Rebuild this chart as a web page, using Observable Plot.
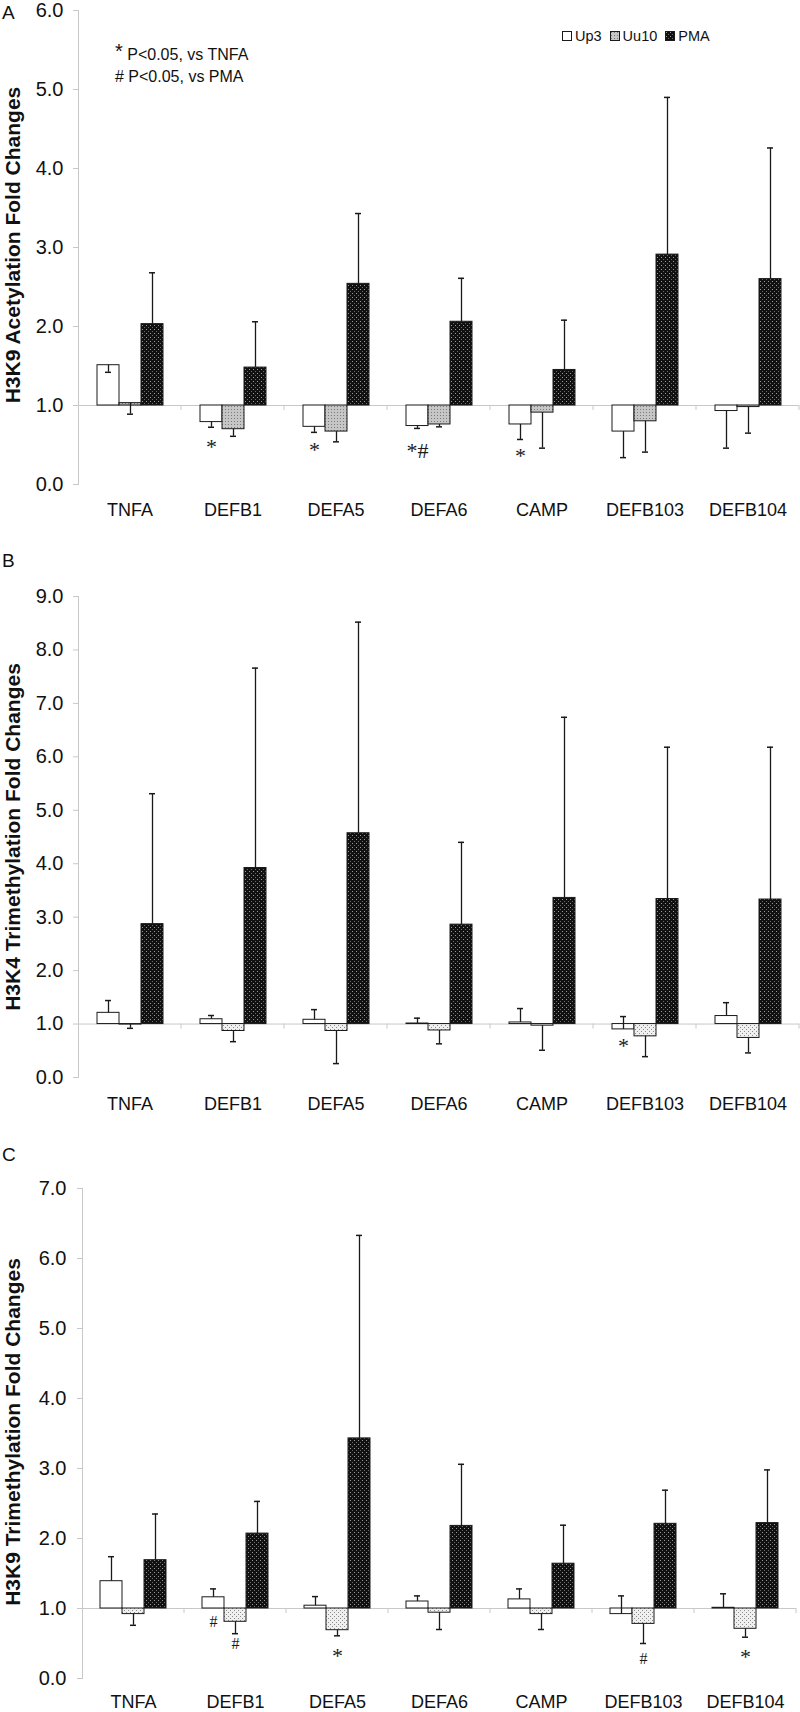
<!DOCTYPE html>
<html><head><meta charset="utf-8">
<script src="https://cdn.jsdelivr.net/npm/d3@7"></script>
<script src="https://cdn.jsdelivr.net/npm/@observablehq/plot@0.6"></script>
<style>
body{margin:0;background:#fff;font-family:"Liberation Sans",Arial,sans-serif;color:#111}
#wrap{position:relative;width:800px;height:1712px;overflow:hidden}
.panel{position:absolute;left:0}
.letter{position:absolute;left:2px;font-size:19px;line-height:19px}
.ytitle{position:absolute;left:12px;font-weight:bold;font-size:21px;line-height:21px;white-space:nowrap;transform:translate(-50%,-50%) rotate(-90deg)}
#legend{position:absolute;left:562px;top:28px;font-size:14.5px;line-height:16px;display:flex;align-items:center}
#legend .sw{width:10px;height:10px;display:block}
#legend .lab{margin-left:3px;margin-right:8px}
#note{position:absolute;left:115px;top:42px;font-size:16px;line-height:22px;white-space:nowrap}
#note .ast{font-size:20px;position:relative;top:-2px}
</style>
</head><body>
<svg width="0" height="0" style="position:absolute">
<defs>
<pattern id="pmaPat" width="4" height="4" patternUnits="userSpaceOnUse">
<rect width="4" height="4" fill="#111"/>
<rect x="1" y="1" width="1" height="1" fill="#9a9a9a"/>
<rect x="3" y="3" width="1" height="1" fill="#6a6a6a"/>
</pattern>
<pattern id="uuA" width="3" height="3" patternUnits="userSpaceOnUse">
<rect width="3" height="3" fill="#c6c6c6"/>
<rect x="1" y="1" width="1" height="1" fill="#7a7a7a"/>
</pattern>
<pattern id="uuBC" width="4" height="4" patternUnits="userSpaceOnUse">
<rect width="4" height="4" fill="#f0f0f0"/>
<rect x="1" y="1" width="1" height="1" fill="#8a8a8a"/>
<rect x="3" y="3" width="1" height="1" fill="#8a8a8a"/>
</pattern>
</defs>
</svg>
<div id="wrap">
<div class="panel" id="pA" style="top:0"></div>
<div class="panel" id="pB" style="top:530px"></div>
<div class="panel" id="pC" style="top:1123px"></div>
</div>
<script>
// ---------- data ----------
const genes = ["TNFA", "DEFB1", "DEFA5", "DEFA6", "CAMP", "DEFB103", "DEFB104"];
const groups = ["Up3", "Uu10", "PMA"];

// Panel A: H3K9 acetylation (bar value and error-bar end value)
const aUp3     = [1.51, 0.79, 0.73, 0.74, 0.76, 0.67, 0.93];
const aUp3End  = [1.42, 0.725, 0.66, 0.71, 0.57, 0.34, 0.46];
const aUu10    = [1.03, 0.70, 0.67, 0.76, 0.91, 0.80, 0.98];
const aUu10End = [0.89, 0.61, 0.54, 0.73, 0.46, 0.41, 0.65];
const aPMA     = [2.03, 1.48, 2.54, 2.06, 1.45, 2.91, 2.60];
const aPMAEnd  = [2.68, 2.06, 3.43, 2.61, 2.08, 4.90, 4.26];
const aSig = [
  {gene: "DEFB1", group: "Up3", y: 0.53, label: "*"},
  {gene: "DEFA5", group: "Up3", y: 0.49, label: "*"},
  {gene: "DEFA6", group: "Up3", y: 0.47, label: "*#"},
  {gene: "CAMP", group: "Up3", y: 0.41, label: "*"}
];

// Panel B: H3K4 trimethylation
const bUp3     = [1.21, 1.09, 1.08, 1.01, 1.03, 0.90, 1.15];
const bUp3End  = [1.44, 1.16, 1.27, 1.11, 1.29, 1.14, 1.40];
const bUu10    = [0.99, 0.87, 0.87, 0.88, 0.97, 0.77, 0.74];
const bUu10End = [0.92, 0.67, 0.26, 0.63, 0.51, 0.39, 0.46];
const bPMA     = [2.87, 3.92, 4.57, 2.86, 3.36, 3.34, 3.33];
const bPMAEnd  = [5.31, 7.66, 8.52, 4.40, 6.74, 6.18, 6.18];
const bSig = [
  {gene: "DEFB103", group: "Up3", y: 0.67, label: "*"}
];

// Panel C: H3K9 trimethylation
const cUp3     = [1.39, 1.16, 1.04, 1.10, 1.13, 0.92, 1.01];
const cUp3End  = [1.74, 1.28, 1.17, 1.18, 1.28, 1.18, 1.21];
const cUu10    = [0.92, 0.81, 0.69, 0.94, 0.92, 0.78, 0.71];
const cUu10End = [0.76, 0.64, 0.61, 0.70, 0.70, 0.50, 0.59];
const cPMA     = [1.69, 2.07, 3.43, 2.18, 1.64, 2.21, 2.22];
const cPMAEnd  = [2.35, 2.53, 6.33, 3.06, 2.19, 2.69, 2.98];
const cSig = [
  {gene: "DEFB1", group: "Up3", y: 0.81, label: "#"},
  {gene: "DEFB1", group: "Uu10", y: 0.50, label: "#"},
  {gene: "DEFA5", group: "Uu10", y: 0.38, label: "*"},
  {gene: "DEFB103", group: "Uu10", y: 0.28, label: "#"},
  {gene: "DEFB104", group: "Uu10", y: 0.36, label: "*"}
];

const titleA = "H3K9 Acetylation Fold Changes";
const titleB = "H3K4 Trimethylation Fold Changes";
const titleC = "H3K9 Trimethylation Fold Changes";

// ---------- helpers ----------
function makeRows(vals, ends) {
  return genes.flatMap((gene, i) => groups.map((group, j) => ({gene, group, value: vals[j][i], end: ends[j][i]})));
}

const grid = "#c8c8c8";
const ink = "#1a1a1a";

function panel(o) {
  const catTicks = (index, scales, values, dimensions) => {
    const xr = dimensions.width - dimensions.marginRight;
    const y0 = scales.y(1);
    const g = d3.create("svg:g");
    g.append("line").attr("x1", xr).attr("x2", xr).attr("y1", y0).attr("y2", y0 + 5).attr("stroke", grid);
    return g.node();
  };
  return Plot.plot({
    width: 800, height: o.height,
    marginLeft: o.marginLeft, marginRight: o.marginRight, marginTop: o.marginTop, marginBottom: o.marginBottom,
    style: {fontFamily: '"Liberation Sans", Arial, sans-serif', fontSize: "18px", color: "#111", background: "white", overflow: "visible"},
    fx: {domain: genes, padding: 0, axis: "bottom", tickSize: 0, tickPadding: o.catPad, label: null},
    x: {domain: groups, paddingInner: 0, paddingOuter: 0.74, axis: null},
    y: {domain: [0, o.yMax], axis: null},
    color: {type: "ordinal", domain: groups, range: ["white", o.uuFill, "url(#pmaPat)"]},
    marks: [
      Plot.frame({anchor: "left", stroke: grid, facetAnchor: "left"}),
      Plot.axisY({ticks: d3.range(0, o.yMax + 1), tickFormat: d3.format(".1f"), tickSize: 5, tickPadding: o.tickPad, stroke: grid, fill: "#111", fontSize: 20, label: null}),
      Plot.ruleY([1], {stroke: grid}),
      catTicks,
      Plot.barY(o.rows, {fx: "gene", x: "group", y1: 1, y2: "value", fill: "group", stroke: ink, strokeWidth: 1}),
      Plot.ruleX(o.rows, {fx: "gene", x: "group", y1: "value", y2: "end", stroke: ink, strokeWidth: 1.3}),
      Plot.tickY(o.rows, {fx: "gene", x: "group", y: "end", stroke: ink, strokeWidth: 1.5, insetLeft: 8, insetRight: 8}),
      Plot.text(o.sig.filter(d => d.label.startsWith("*")), {fx: "gene", x: "group", y: "y", text: "label", fontFamily: '"Liberation Serif", "Times New Roman", serif', fontSize: 22, dy: 4, fill: ink}),
      Plot.text(o.sig.filter(d => d.label === "#"), {fx: "gene", x: "group", y: "y", text: "label", fontFamily: '"Liberation Serif", "Times New Roman", serif', fontSize: 16, fill: ink})
    ]
  });
}

document.getElementById("pA").append(panel({
  rows: makeRows([aUp3, aUu10, aPMA], [aUp3End, aUu10End, aPMAEnd]), sig: aSig,
  yMax: 6, height: 530, marginLeft: 77, marginRight: 0, marginTop: 10, marginBottom: 46,
  tickPad: 10, catPad: 19, uuFill: "url(#uuA)"
}));
document.getElementById("pB").append(panel({
  rows: makeRows([bUp3, bUu10, bPMA], [bUp3End, bUu10End, bPMAEnd]), sig: bSig,
  yMax: 9, height: 593, marginLeft: 77, marginRight: 0, marginTop: 66, marginBottom: 46,
  tickPad: 10, catPad: 20, uuFill: "url(#uuBC)"
}));
document.getElementById("pC").append(panel({
  rows: makeRows([cUp3, cUu10, cPMA], [cUp3End, cUu10End, cPMAEnd]), sig: cSig,
  yMax: 7, height: 589, marginLeft: 81, marginRight: 3, marginTop: 65, marginBottom: 34,
  tickPad: 11, catPad: 17, uuFill: "url(#uuBC)"
}));

// ---------- overlays: panel letters, axis titles, legend, note ----------
const wrap = document.getElementById("wrap");
function addDiv(cls, text, style) {
  const d = document.createElement("div");
  d.className = cls; d.textContent = text; Object.assign(d.style, style);
  wrap.append(d); return d;
}
addDiv("letter", "A", {top: "2.5px"});
addDiv("letter", "B", {top: "550.5px"});
addDiv("letter", "C", {top: "1144.5px"});
addDiv("ytitle", titleA, {top: "245px"});
addDiv("ytitle", titleB, {top: "837px"});
addDiv("ytitle", titleC, {top: "1432px"});

const legend = document.createElement("div");
legend.id = "legend";
const swFill = {Up3: "white", Uu10: "url(#uuA)", PMA: "url(#pmaPat)"};
groups.forEach(g => {
  const sw = d3.create("svg").attr("class", "sw").attr("width", 10).attr("height", 10);
  sw.append("rect").attr("x", 0.5).attr("y", 0.5).attr("width", 9).attr("height", 9).attr("fill", swFill[g]).attr("stroke", ink);
  legend.append(sw.node());
  const s = document.createElement("span"); s.className = "lab"; s.textContent = g; legend.append(s);
});
wrap.append(legend);

const note = document.createElement("div");
note.id = "note";
note.innerHTML = '<div><span class="ast">*</span> P&lt;0.05, vs TNFA</div><div># P&lt;0.05, vs PMA</div>';
wrap.append(note);
</script>
</body></html>
